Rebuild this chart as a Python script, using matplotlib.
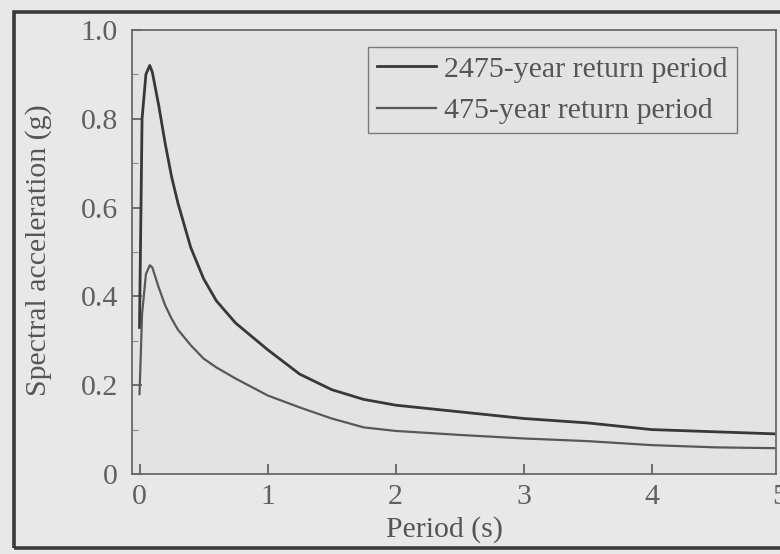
import numpy as np
import matplotlib
matplotlib.use('Agg')
import matplotlib.pyplot as plt
import matplotlib.ticker as mticker
from matplotlib.patches import Rectangle

# response spectra, period in s, spectral acceleration in g
period = [0.0, 0.02, 0.05, 0.08, 0.1, 0.15, 0.2, 0.25, 0.3, 0.4, 0.5, 0.6,
          0.75, 1.0, 1.25, 1.5, 1.75, 2.0, 2.5, 3.0, 3.5, 4.0, 4.5, 5.0]
sa_2475 = [0.33, 0.80, 0.90, 0.92, 0.905, 0.83, 0.745, 0.67, 0.61, 0.51, 0.44, 0.39,
           0.34, 0.28, 0.225, 0.19, 0.168, 0.155, 0.14, 0.125, 0.115, 0.10, 0.095, 0.09]
sa_475 = [0.18, 0.36, 0.45, 0.47, 0.465, 0.42, 0.38, 0.35, 0.325, 0.29, 0.26, 0.24,
          0.215, 0.177, 0.15, 0.125, 0.105, 0.097, 0.088, 0.08, 0.074, 0.065, 0.06, 0.058]
labels = ['2475-year return period', '475-year return period']
xticks = [0, 1, 2, 3, 4]
yticks = [0, 0.2, 0.4, 0.6, 0.8, 1.0]
yticklabels = ['0', '0.2', '0.4', '0.6', '0.8', '1.0']

plt.rcParams['font.family'] = ['Liberation Serif', 'DejaVu Serif']
bg = '#e3e3e3'
ink = '#5a5a5a'
fs = 21.5

fig = plt.figure(figsize=(7.8, 5.54), dpi=100, facecolor='#e8e8e8')
ax = fig.add_axes([0.169, 0.1444, 0.826, 0.8016], facecolor=bg)

ax.plot(period, sa_2475, color='#383838', lw=2.0, label=labels[0])
ax.plot(period, sa_475, color='#585858', lw=1.6, label=labels[1])

ax.set_xlim(-0.06, 4.97)
ax.set_ylim(0, 1.0)
ax.set_xticks(xticks)
ax.set_yticks(yticks)
ax.set_yticklabels(yticklabels)
ax.yaxis.set_minor_locator(mticker.MultipleLocator(0.1))
ax.tick_params(axis='both', which='major', direction='in', length=7, width=1.2,
               color=ink, labelsize=fs, labelcolor='#606060')
ax.tick_params(axis='x', pad=7)
ax.tick_params(axis='y', pad=10)
ax.tick_params(axis='y', which='minor', direction='in', length=4, width=0.8, color='#8a8a8a')
for s in ax.spines.values():
    s.set_color('#6a6a6a')
    s.set_linewidth(1.3)

# last tick label sits on the figure edge
ax.annotate('5', xy=(5, 0), xycoords=('data', 'axes fraction'), xytext=(0, -7),
            textcoords='offset points', ha='center', va='top', fontsize=fs,
            color='#606060', annotation_clip=False)

ax.set_xlabel('Period (s)', fontsize=fs, color='#555555')
ax.xaxis.set_label_coords(0.486, -0.095)
ax.set_ylabel('Spectral acceleration (g)', fontsize=fs, color='#555555')
ax.yaxis.set_label_coords(-0.124, 0.505)

leg = ax.legend(loc='upper right', bbox_to_anchor=(0.939, 0.962), fontsize=fs,
                handlelength=2.0, handletextpad=0.27, labelspacing=0.5,
                borderpad=0.3, borderaxespad=0, fancybox=False, framealpha=1)
leg.get_frame().set_facecolor(bg)
leg.get_frame().set_edgecolor('#7a7a7a')
leg.get_frame().set_linewidth(1.0)
for t in leg.get_texts():
    t.set_color('#555555')

# outer frame of the figure panel
fig.patches.append(Rectangle((14 / 780, 6 / 554), 1.2, 536 / 554, transform=fig.transFigure,
                             fill=False, edgecolor='#3a3a3a', lw=2.6, clip_on=False))

fig.savefig('out.png', dpi=100, facecolor=fig.get_facecolor())
